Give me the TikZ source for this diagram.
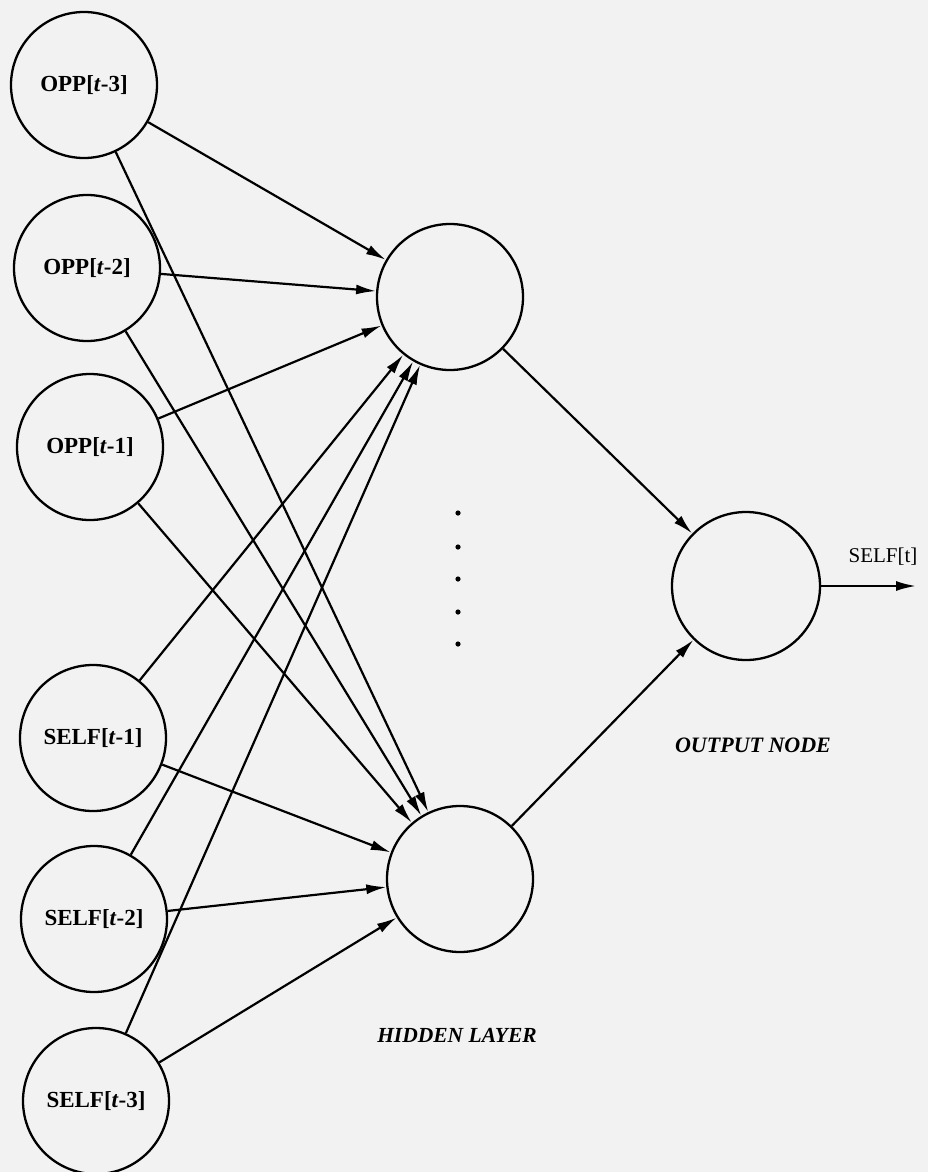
\documentclass[tikz,border=0pt]{standalone}
\usepackage{fontspec}
\setmainfont{Liberation Serif}
\usetikzlibrary{arrows.meta}
\tikzset{
  neuron/.style={circle, draw, line width=2.3pt, minimum size=146pt, inner sep=0pt,
    font=\fontsize{23}{26}\selectfont\bfseries},
  link/.style={-{Latex[length=20pt,width=10pt]}, line width=2.2pt},
  tag/.style={font=\fontsize{22}{26}\selectfont\bfseries\itshape}
}
\begin{document}
\begin{tikzpicture}[x=1pt,y=-1pt]
\fill[black!5] (0,0) rectangle (928,1172);
\useasboundingbox (0,0) rectangle (928,1172);
% input layer
\foreach \n/\x/\y/\lab/\k in {o3/84/85/OPP/3, o2/87/268/OPP/2, o1/90/447/OPP/1,
  s1/93/738/SELF/1, s2/94/919/SELF/2, s3/96/1101/SELF/3}
  \node[neuron] (\n) at (\x,\y) {\lab[\textit{t}-\k]};
% hidden layer and output
\node[neuron] (h1) at (450,297) {};
\node[neuron] (h2) at (460,879) {};
\node[neuron, minimum size=148pt] (out) at (746,586) {};
\foreach \n in {o3,o2,o1,s1,s2,s3} {
  \draw[link] (\n) -- (h1);
  \draw[link] (\n) -- (h2);
}
\draw[link] (h1) -- (out);
\draw[link] (h2) -- (out);
\coordinate (end) at (916,586);
\draw[link] (out) -- (end);
\node[font=\fontsize{21}{24}\selectfont] (selft) at (883,557) {SELF[t]};
\foreach \y in {513,547,579,612,644} \fill (458,\y) circle (2.6pt);
\node[tag] (outlab) at (753,745) {OUTPUT NODE};
\node[tag, font=\fontsize{21.5}{24}\selectfont\bfseries\itshape] (hidlab) at (457,1035) {HIDDEN LAYER};
\end{tikzpicture}
\end{document}
